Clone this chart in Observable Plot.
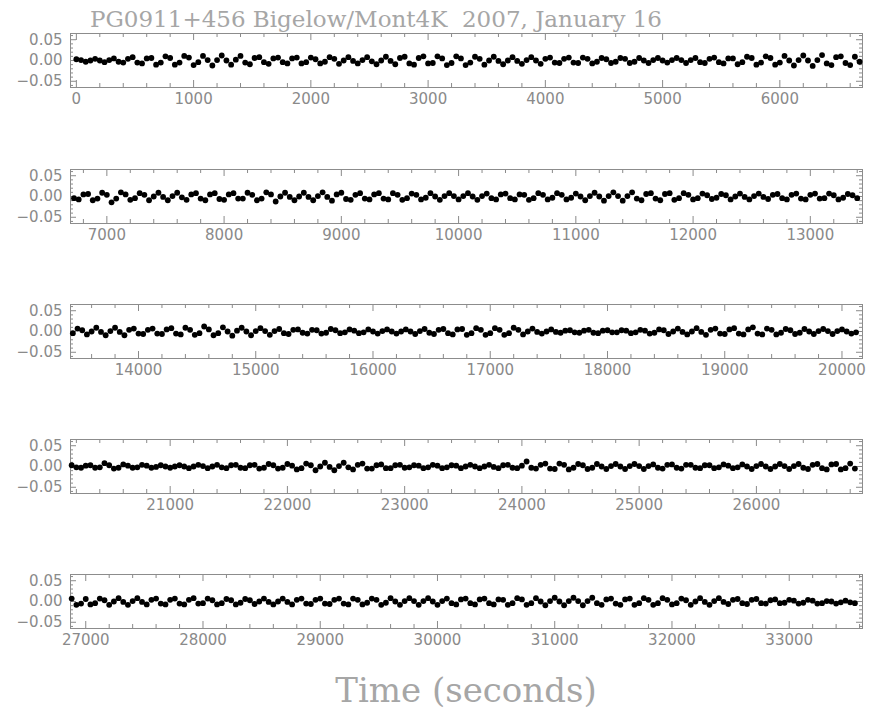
<!DOCTYPE html>
<html>
<head>
<meta charset="utf-8">
<script src="https://cdn.jsdelivr.net/npm/d3@7"></script>
<script src="https://cdn.jsdelivr.net/npm/@observablehq/plot@0.6"></script>
<style>
  body { margin: 0; background: #fff; }
  #chart { position: relative; width: 873px; height: 710px; overflow: hidden; background: #fff; }
  .title, .xlabel {
    position: absolute; white-space: pre; color: #a6a6a6;
    font-family: "DejaVu Serif", serif; line-height: 1;
  }
  .title { left: 90px; top: 8px; font-size: 23px; }
  .xlabel { left: 466px; top: 673px; font-size: 34px; transform: translateX(-50%); }
  .panel { position: absolute; left: 0; }
</style>
</head>
<body>
<div id="chart"></div>
<script>
// Light curve of PG0911+456, relative flux in parts per thousand,
// one exposure every 40 s starting at t = 0, 168 exposures per strip.
const titleText = "PG0911+456 Bigelow/Mont4K  2007, January 16";
const xTitle = "Time (seconds)";
const cadence = 40;

// Left edge of the time window shown in each strip (seconds) and the window length.
const panelStarts = [-50, 6690, 13420, 20150, 26870];
const panelSpan = 6755;

// Labelled ticks of each strip.
const xTickLabels1 = [0, 1000, 2000, 3000, 4000, 5000, 6000];
const xTickLabels2 = [7000, 8000, 9000, 10000, 11000, 12000, 13000];
const xTickLabels3 = [14000, 15000, 16000, 17000, 18000, 19000, 20000];
const xTickLabels4 = [21000, 22000, 23000, 24000, 25000, 26000];
const xTickLabels5 = [27000, 28000, 29000, 30000, 31000, 32000, 33000];
const yTickLabels = [-0.05, 0, 0.05];

const flux1 = [
  3, 1, -3, 0, 4, 0, -4, 1, 5, -3, -5, 4, 8, -5, -7, 5,
  6, -10, -5, 10, 6, -10, -5, 11, 7, -11, -4, 11, 1, -12, 1, 12,
  0, -10, 2, 11, -5, -9, 6, 8, -4, -8, 5, 7, -4, -7, 5, 7,
  -7, -4, 7, 3, -7, -3, 8, 4, -8, 0, 8, -1, -7, 1, 8, -2,
  -9, 0, 9, -1, -9, 6, 9, -7, -10, 6, 10, -7, -6, 10, 5, -11,
  -6, 10, 5, -11, -5, 9, 4, -10, 0, 9, -1, -9, 0, 8, -1, -8,
  1, 8, 0, -8, 4, 7, -5, -6, 4, 7, -5, -6, 7, 4, -7, -3,
  6, 3, -6, -3, 6, 4, -6, -3, 6, 0, -6, 1, 6, 0, -5, 1,
  6, 1, -6, 1, 6, -4, -6, 4, 7, -4, -7, 5, 5, -9, -4, 9,
  6, -10, -5, 10, 6, -10, -5, 11, 0, -12, 1, 12, 0, -13, 1, 13,
  -7, -11, 8, 10, -6, -11, 9, -3
];
const flux2 = [
  -4, -7, 5, 6, -9, -5, 9, 4, -14, -5, 10, 5, -8, -4, 8, 4,
  -9, 0, 9, -1, -9, 1, 9, -2, -8, 5, 8, -5, -9, 5, 8, -6,
  -8, 5, 8, -5, -5, 9, 4, -9, -5, 10, 5, -12, 0, 9, -1, -9,
  0, 9, -1, -9, 1, 10, -1, -10, 5, 9, -6, -8, 4, 8, -5, -7,
  5, 8, -5, -7, 8, 4, -8, -4, 7, 4, -7, -3, 8, 0, -8, 1,
  8, 1, -7, 1, 8, 0, -8, 1, 7, -4, -7, 5, 7, -4, -7, 5,
  4, -8, -4, 8, 4, -7, -3, 8, 4, -7, -3, 7, 0, -9, 1, 9,
  0, -10, 1, 10, 1, -10, 1, 10, -5, -9, 6, 8, -5, -9, 6, 8,
  -8, -4, 8, 4, -7, -4, 7, 3, -6, -3, 6, 3, -7, 0, 7, -1,
  -7, 1, 7, -1, -6, 4, 6, -4, -7, 4, 7, -5, -7, 4, 7, -5,
  -4, 7, 3, -7, -3, 6, 3, -4
];
const flux3 = [
  -4, 7, 3, -7, 0, 9, -1, -9, 1, 9, -1, -9, 4, 7, -5, -6,
  4, 7, -5, -6, 5, 8, -5, -7, 9, 4, -8, -4, 12, 5, -9, -4,
  10, 0, -10, 2, 9, 0, -9, 1, 8, 1, -8, 1, 6, -4, -6, 4,
  5, -3, -5, 4, 3, -5, -3, 6, 3, -4, -2, 5, 2, -4, -2, 5,
  0, -5, 1, 5, 0, -5, 0, 5, 0, -6, 1, 6, -3, -6, 4, 6,
  -4, -7, 5, 6, -8, -4, 8, 4, -8, -4, 8, 4, -8, -4, 9, 4,
  -7, 0, 7, -1, -5, 0, 5, -1, -3, 2, 3, -2, -3, 2, 4, -3,
  -4, 2, 3, -2, -2, 3, 2, -4, -2, 4, 2, -5, -3, 5, 3, -6,
  0, 7, -1, -7, 0, 8, -1, -8, 4, 7, -5, -6, 5, 8, -5, -7,
  5, 10, -5, -7, 7, 4, -7, -3, 6, 3, -6, -3, 6, 0, -6, 1,
  6, 1, -6, 1, 5, 0, -5, -2
];
const flux4 = [
  3, -2, -3, 2, 3, -3, -2, 8, 3, -5, -3, 5, 2, -3, -2, 4,
  2, -3, -1, 3, 0, -3, 0, 3, 0, -4, 0, 4, 1, -4, 0, 4,
  -2, -4, 3, 4, -3, -4, 3, 4, -5, -3, 6, 3, -5, -3, 6, 2,
  -7, -4, 7, 3, -9, 0, 9, -1, -9, 1, 9, -2, -7, 4, 7, -5,
  -5, 3, 5, -4, -4, 3, 4, -3, -2, 3, 2, -4, -2, 4, 2, -4,
  -2, 3, 2, -4, 0, 4, 0, -4, 0, 4, -1, -4, 3, 4, -3, -4,
  2, 12, -3, -5, 4, 7, -5, -6, 7, 4, -7, -3, 6, 3, -6, -3,
  6, 0, -6, 1, 6, 0, -6, 1, 6, 1, -6, 1, 5, -3, -5, 4,
  5, -3, -5, 4, 4, -3, -4, 3, 3, -4, -2, 5, 2, -4, -2, 5,
  0, -6, 1, 6, 0, -6, 0, 6, 1, -6, 1, 6, -3, -6, 4, 6,
  -4, -7, 5, 6, -7, -4, 7, -5
];
const flux5 = [
  7, -8, -5, 6, -7, -4, 7, 3, -8, 0, 8, -1, -8, 1, 8, -1,
  -7, 4, 7, -5, -7, 4, 7, -5, -7, 4, 8, -5, -4, 7, 3, -7,
  -4, 6, 3, -7, -3, 6, 3, -6, 0, 7, -1, -7, 0, 7, -1, -7,
  4, 7, -5, -6, 4, 7, -5, -6, 4, 7, -5, -7, 7, 4, -7, -3,
  7, 4, -8, -3, 8, 0, -8, 1, 8, 1, -8, 1, 8, 0, -8, 1,
  7, -4, -7, 5, 7, -4, -7, 5, 7, -4, -7, 5, 4, -8, -4, 8,
  5, -8, -4, 8, 0, -9, 1, 9, 0, -9, 1, 9, 1, -9, 1, 9,
  -4, -8, 5, 7, -5, -8, 5, 7, -8, -4, 8, 4, -8, -4, 8, 4,
  -7, -4, 7, 3, -8, 0, 8, -1, -8, 1, 8, -1, -6, 4, 6, -4,
  -6, 4, 6, -4, -5, 3, 5, -4, -3, 4, 2, -5, -3, 4, 2, -5,
  -4, 1, 0, -5, -2, 2, -2, -4
];

const fluxPanels = [flux1, flux2, flux3, flux4, flux5];
const xTickPanels = [xTickLabels1, xTickLabels2, xTickLabels3, xTickLabels4, xTickLabels5];
const frameTops = [33, 169, 304, 439, 574];

const W = 873, frameH = 54, mTop = 2, mBottom = 30, mLeft = 70, mRight = 11;
const innerW = W - mLeft - mRight;
const axisGray = "#8a8a8a";

const chart = document.getElementById("chart");

const title = document.createElement("div");
title.className = "title";
title.textContent = titleText;
chart.appendChild(title);

let offset = 0;
fluxPanels.forEach((flux, k) => {
  const start = panelStarts[k];
  const end = start + panelSpan;
  const first = offset;
  const data = flux.map((v, i) => ({t: cadence * (first + i), f: v / 1000}));
  offset += flux.length;
  const minorX = d3.range(Math.ceil(start / 200) * 200, end, 200).filter(d => d % 1000 !== 0);
  const majorX = d3.range(Math.ceil(start / 1000) * 1000, end, 1000);
  const minorY = d3.range(-6, 7).map(d => d / 100).filter(d => Math.abs(d) > 1e-9 && Math.abs(Math.abs(d) - 0.05) > 1e-9);

  const plot = Plot.plot({
    width: W,
    height: frameH + mTop + mBottom,
    marginTop: mTop, marginBottom: mBottom, marginLeft: mLeft, marginRight: mRight,
    x: {domain: [start, end]},
    y: {domain: [-0.065, 0.065]},
    style: {fontFamily: "DejaVu Sans", fontSize: "15px", color: axisGray, background: "transparent"},
    marks: [
      // inward ticks on all four sides
      Plot.tickX(minorX, {x: d => d, insetTop: frameH - 4, stroke: axisGray}),
      Plot.tickX(minorX, {x: d => d, insetBottom: frameH - 4, stroke: axisGray}),
      Plot.tickX(majorX, {x: d => d, insetTop: frameH - 7, stroke: axisGray}),
      Plot.tickX(majorX, {x: d => d, insetBottom: frameH - 7, stroke: axisGray}),
      Plot.tickY(minorY, {y: d => d, insetRight: innerW - 3, stroke: axisGray}),
      Plot.tickY(minorY, {y: d => d, insetLeft: innerW - 3, stroke: axisGray}),
      Plot.tickY(yTickLabels, {y: d => d, insetRight: innerW - 6, stroke: axisGray}),
      Plot.tickY(yTickLabels, {y: d => d, insetLeft: innerW - 6, stroke: axisGray}),
      Plot.frame({stroke: "#8c8c8c"}),
      Plot.axisX(xTickPanels[k], {tickSize: 0, tickPadding: 6, tickFormat: d3.format("d"), label: null, fill: axisGray}),
      Plot.axisY(yTickLabels, {tickSize: 0, tickPadding: 8, tickFormat: d3.format(".2f"), label: null, fill: axisGray}),
      Plot.dot(data, {x: "t", y: "f", r: 2.9, fill: "black", stroke: null})
    ]
  });
  plot.classList.add("panel");
  plot.style.top = (frameTops[k] - mTop) + "px";
  chart.appendChild(plot);
});

const xlabel = document.createElement("div");
xlabel.className = "xlabel";
xlabel.textContent = xTitle;
chart.appendChild(xlabel);
</script>
</body>
</html>
